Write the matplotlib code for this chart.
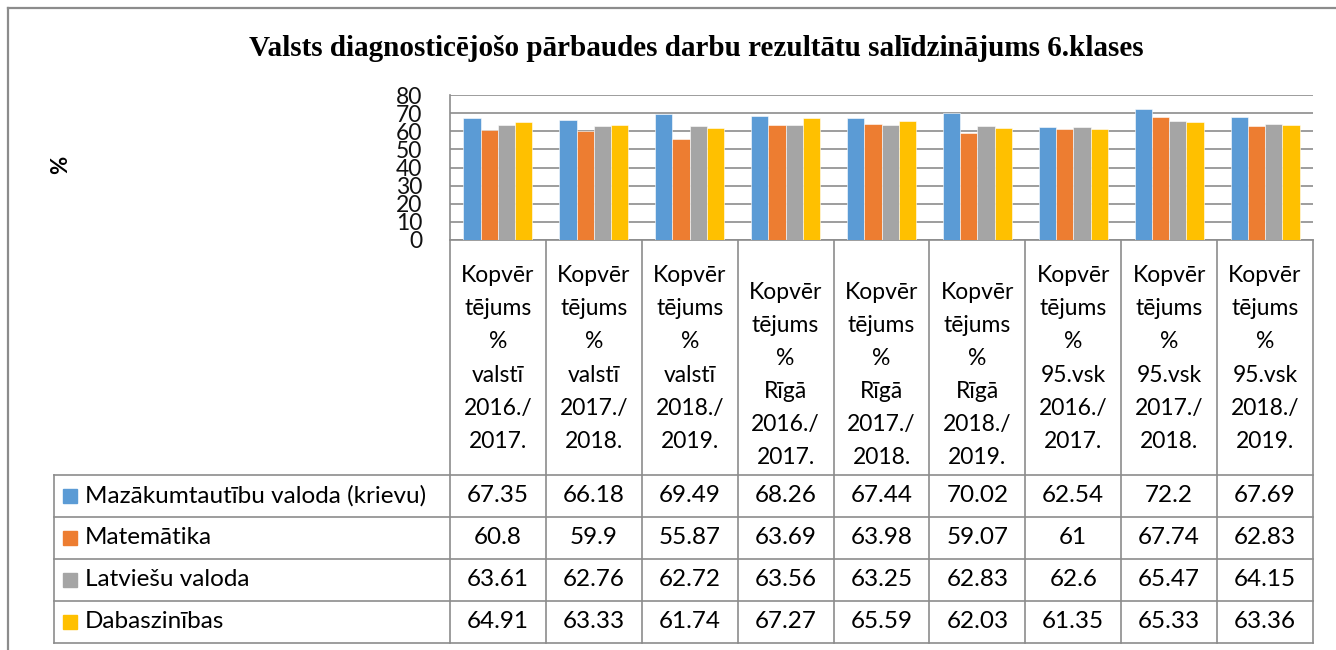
import numpy as np
import matplotlib
matplotlib.use("Agg")
import matplotlib.pyplot as plt

plt.rcParams['font.family'] = ['Lato', 'DejaVu Sans']

categories = [
    "Kopvēr\ntējums\n%\nvalstī\n2016./\n2017.\n ",
    "Kopvēr\ntējums\n%\nvalstī\n2017./\n2018.\n ",
    "Kopvēr\ntējums\n%\nvalstī\n2018./\n2019.\n ",
    "Kopvēr\ntējums\n%\nRīgā\n2016./\n2017.",
    "Kopvēr\ntējums\n%\nRīgā\n2017./\n2018.",
    "Kopvēr\ntējums\n%\nRīgā\n2018./\n2019.",
    "Kopvēr\ntējums\n%\n95.vsk\n2016./\n2017.\n ",
    "Kopvēr\ntējums\n%\n95.vsk\n2017./\n2018.\n ",
    "Kopvēr\ntējums\n%\n95.vsk\n2018./\n2019.\n ",
]
series_names = ["Mazākumtautību valoda (krievu)", "Matemātika", "Latviešu valoda", "Dabaszinības"]
mazakumtautibu = [67.35, 66.18, 69.49, 68.26, 67.44, 70.02, 62.54, 72.2, 67.69]
matematika = [60.8, 59.9, 55.87, 63.69, 63.98, 59.07, 61, 67.74, 62.83]
latviesu = [63.61, 62.76, 62.72, 63.56, 63.25, 62.83, 62.6, 65.47, 64.15]
dabaszinibas = [64.91, 63.33, 61.74, 67.27, 65.59, 62.03, 61.35, 65.33, 63.36]
series = [mazakumtautibu, matematika, latviesu, dabaszinibas]
colors = ["#5B9BD5", "#ED7D31", "#A5A5A5", "#FFC000"]

W, H = 1336, 650
fig = plt.figure(figsize=(W / 100, H / 100), dpi=100)

# overlay in pixel coordinates for the frame, title and data table
ov = fig.add_axes([0, 0, 1, 1])
ov.set_xlim(0, W)
ov.set_ylim(H, 0)
ov.axis("off")

line_c = "#8C8C8C"
ov.plot([8, W], [8, 8], color=line_c, lw=1.6)
ov.plot([8, 8], [8, H], color=line_c, lw=1.6)

ov.text(696, 48, "Valsts diagnosticējošo pārbaudes darbu rezultātu salīdzinājums 6.klases",
        family="Liberation Serif", fontweight="bold", fontsize=21, ha="center", va="center")
ov.text(61, 165, "%", fontweight="bold", fontsize=16, rotation=90, ha="center", va="center")

# plot area
x0, x1 = 450, 1313
y_top, y_axis = 95, 240
ax = fig.add_axes([x0 / W, 1 - y_axis / H, (x1 - x0) / W, (y_axis - y_top) / H])
n = len(categories)
x = np.arange(n)
bw = 0.18
for j, (vals, c) in enumerate(zip(series, colors)):
    ax.bar(x + (j - 1.5) * bw, vals, width=bw, color=c, edgecolor="white", linewidth=0.4, zorder=3)
ax.set_xlim(-0.5, n - 0.5)
ax.set_ylim(0, 80)
ax.set_yticks(np.arange(0, 81, 10))
ax.set_xticks([])
ax.tick_params(axis="y", length=0, pad=20, labelsize=16.5, labelcolor="#111111")
ax.grid(axis="y", color="#8C8C8C", lw=1.2, zorder=0)
for s in ["top", "right"]:
    ax.spines[s].set_visible(False)
for s in ["left", "bottom"]:
    ax.spines[s].set_color(line_c)
    ax.spines[s].set_linewidth(1.2)

# data table below
col_w = (x1 - x0) / n
edges = [x0 + i * col_w for i in range(n + 1)]
row_top = 475
row_h = 42
leg_x = 54
rows_y = [row_top + k * row_h for k in range(len(series) + 1)]

for xe in edges:
    ov.plot([xe, xe], [y_axis, rows_y[-1]], color=line_c, lw=1.2)
ov.plot([leg_x, leg_x], [row_top, rows_y[-1]], color=line_c, lw=1.2)
for ye in rows_y:
    ov.plot([leg_x, x1], [ye, ye], color=line_c, lw=1.2)

for i, lab in enumerate(categories):
    ov.text((edges[i] + edges[i + 1]) / 2, 375, lab, ha="center", va="center",
            fontsize=16.5, linespacing=1.71)

for k, (name, vals, c) in enumerate(zip(series_names, series, colors)):
    yc = rows_y[k] + row_h / 2
    ov.add_patch(plt.Rectangle((63, yc - 7), 14, 14, color=c))
    ov.text(85, yc, name, ha="left", va="center", fontsize=17.5)
    for i, v in enumerate(vals):
        ov.text((edges[i] + edges[i + 1]) / 2, yc, f"{v:g}", ha="center", va="center", fontsize=17.5)

fig.savefig("out.png", dpi=100)
